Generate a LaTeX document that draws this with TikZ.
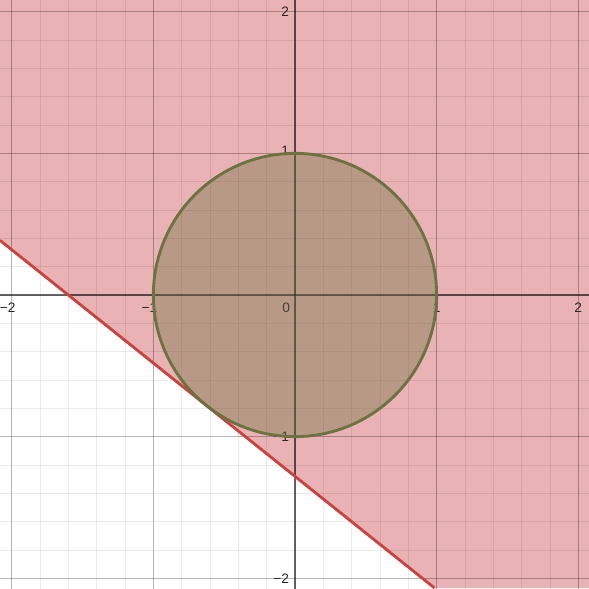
\documentclass[tikz,border=0pt]{standalone}
\usepackage{fontspec}
\setmainfont{Liberation Sans}
\definecolor{pinkfill}{RGB}{233,179,181}
\definecolor{linered}{RGB}{201,68,64}
\definecolor{circolive}{RGB}{108,114,64}
\definecolor{labelgray}{RGB}{40,40,40}
\tikzset{
  minorgrid/.style={black, opacity=0.08, line width=0.6pt},
  majorgrid/.style={black, opacity=0.22, line width=0.8pt},
  axisline/.style={black, opacity=0.6, line width=1.3pt},
  ticklabel/.style={text=labelgray, font=\fontsize{11}{12}\selectfont, inner sep=0pt},
  region/.style={fill=pinkfill},
  boundary/.style={draw=linered, line width=2.3pt},
  disc/.style={fill=circolive, fill opacity=0.4, draw=circolive, line width=2.3pt}
}
\newcommand{\negnum}[1]{\makebox[0pt][r]{−}#1}
\begin{document}
\begin{tikzpicture}[x=4cm,y=4cm]
\useasboundingbox (-2.083,-2.069) rectangle (2.076,2.083);
\clip (-2.083,-2.069) rectangle (2.076,2.083);
\fill[white] (-2.083,-2.069) rectangle (2.076,2.083);
% half plane y >= -0.8x - 1.2806
\coordinate (pL) at (-2.083,{-0.8*(-2.083)-1.2806});
\coordinate (pB) at ({(2.069-1.2806)/0.8},-2.069);
\coordinate (cTL) at (-2.083,2.083);
\coordinate (cTR) at (2.076,2.083);
\coordinate (cBR) at (2.076,-2.069);
\fill[region] (pL) -- (cTL) -- (cTR) -- (cBR) -- (pB) -- cycle;
% grid
\foreach \i in {-11,...,11} {
  \draw[minorgrid] (\i/5,-2.2) -- (\i/5,2.2);
  \draw[minorgrid] (-2.2,\i/5) -- (2.2,\i/5);
}
\foreach \i in {-2,-1,1,2} {
  \draw[majorgrid] (\i,-2.2) -- (\i,2.2);
  \draw[majorgrid] (-2.2,\i) -- (2.2,\i);
}
% axes
\coordinate (xl) at (-2.2,0);
\coordinate (xr) at (2.2,0);
\coordinate (yb) at (0,-2.2);
\coordinate (yt) at (0,2.2);
\draw[axisline] (xl) -- (xr);
\draw[axisline] (yb) -- (yt);
% tick labels
\node[ticklabel] (lxm2) at (-2,-0.092) {\negnum{2}};
\node[ticklabel] (lxm1) at (-1,-0.092) {\negnum{1}};
\node[ticklabel] (lx0) at (-0.062,-0.092) {0};
\node[ticklabel] (lx1) at (1,-0.092) {1};
\node[ticklabel] (lx2) at (2,-0.092) {2};
\node[ticklabel, anchor=east] (ly2) at (-0.04,2) {2};
\node[ticklabel, anchor=east] (ly1) at (-0.04,1.02) {1};
\node[ticklabel, anchor=east] (lym1) at (-0.04,-1) {−1};
\node[ticklabel, anchor=east] (lym2) at (-0.04,-2) {−2};
% boundary line
\draw[boundary] (pL) -- (pB);
% circle
\node[disc, circle, minimum size=8cm, inner sep=0pt] (c) at (0,0) {};
\end{tikzpicture}
\end{document}
